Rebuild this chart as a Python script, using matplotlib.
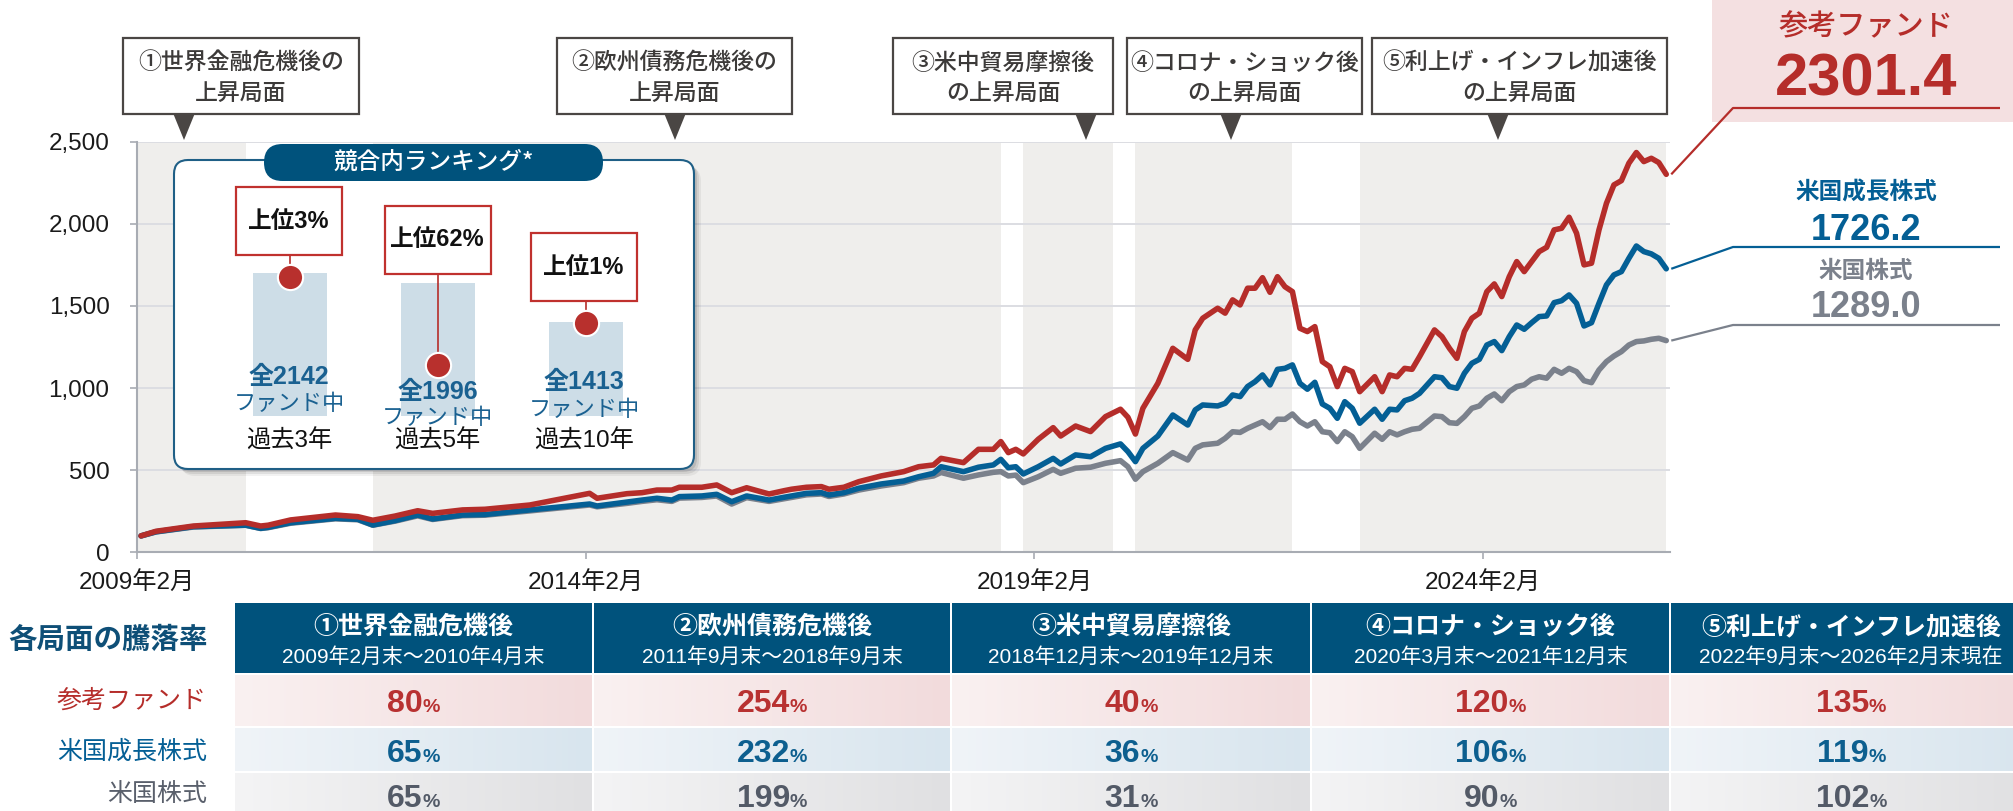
import matplotlib.pyplot as plt
import matplotlib.patches as mpatches
from matplotlib.colors import LinearSegmentedColormap
import numpy as np

plt.rcParams['font.family'] = ['Liberation Sans', 'Noto Sans CJK JP', 'DejaVu Sans']

# -------------------------
# Data (month index from 2009年2月, index = 100 at start)
# -------------------------

months = [0, 2, 7, 14, 16, 17, 20, 26, 29, 31, 34, 37, 39, 43, 46, 52, 60, 61, 65,
          67, 69, 71, 72, 75, 77, 79, 81, 84, 86, 87, 89, 91, 92, 94, 96, 99,
          102, 104, 106, 107, 110, 112, 114, 115, 116, 117, 118, 120, 122, 123, 125, 127, 129,
          131, 132, 133, 134, 136, 138, 140, 141, 142, 144, 145, 146, 147, 148, 149, 150,
          151, 152, 153, 154, 155, 156, 157, 158, 159, 160, 161, 162, 163, 165, 166, 167,
          168, 169, 170, 171, 173, 174, 175, 176, 177, 178, 179, 180, 181, 182, 183, 184,
          185, 186, 187, 188, 189, 190, 191, 192, 193, 194, 195, 196, 197, 198, 199, 200,
          201, 202, 203, 204]

fund = [100, 128, 160, 180, 160, 165, 197, 227, 217, 195, 221, 253, 237, 258, 262, 288, 359, 329, 357,
        363, 379, 379, 396, 396, 410, 363, 393, 355, 375, 384, 396, 400, 384, 396, 430, 465,
        491, 521, 532, 572, 546, 627, 627, 674, 607, 627, 599, 688, 759, 708, 769, 735, 826,
        871, 822, 720, 877, 1029, 1242, 1175, 1354, 1425, 1486, 1456, 1537, 1506, 1608, 1608, 1672,
        1583, 1678, 1617, 1587, 1364, 1344, 1374, 1161, 1130, 1009, 1120, 1100, 978, 1069, 978, 1080,
        1069, 1120, 1114, 1191, 1354, 1313, 1242, 1181, 1344, 1425, 1456, 1587, 1634, 1557, 1678, 1770,
        1709, 1770, 1831, 1857, 1963, 1973, 2040, 1943, 1750, 1760, 1963, 2125, 2237, 2263, 2369, 2434,
        2379, 2399, 2373, 2301.4]

growth = [100, 125, 156, 165, 146, 152, 180, 207, 201, 166, 193, 227, 203, 227, 230, 258, 294, 282, 306,
          318, 329, 318, 339, 343, 353, 308, 343, 318, 335, 343, 359, 363, 349, 363, 390, 416,
          434, 460, 481, 521, 491, 518, 532, 566, 515, 521, 477, 521, 572, 538, 593, 582, 633,
          660, 613, 552, 633, 708, 836, 775, 867, 897, 891, 907, 958, 948, 1009, 1039, 1080,
          1019, 1114, 1120, 1141, 1029, 993, 1035, 903, 877, 816, 917, 877, 786, 871, 810, 871,
          867, 923, 938, 968, 1069, 1063, 1009, 999, 1090, 1151, 1175, 1262, 1283, 1228, 1313, 1384,
          1358, 1398, 1435, 1439, 1520, 1532, 1567, 1516, 1378, 1398, 1516, 1628, 1689, 1709, 1790, 1865,
          1831, 1817, 1790, 1726.2]

us_stock = [100, 124, 154, 165, 145, 150, 177, 204, 198, 165, 190, 222, 200, 223, 226, 252, 288, 277, 298,
            310, 320, 310, 330, 334, 343, 294, 333, 310, 326, 334, 350, 355, 340, 355, 379, 404,
            424, 451, 465, 486, 451, 471, 487, 491, 465, 470, 424, 460, 505, 481, 512, 518, 542,
            558, 521, 445, 491, 542, 607, 562, 633, 654, 664, 694, 734, 730, 755, 775, 795,
            759, 810, 810, 842, 795, 769, 795, 734, 728, 674, 734, 704, 633, 725, 688, 734,
            715, 734, 749, 755, 830, 826, 789, 785, 826, 877, 891, 938, 964, 923, 978, 1009,
            1019, 1054, 1069, 1060, 1114, 1090, 1120, 1100, 1045, 1033, 1110, 1161, 1195, 1222, 1262, 1283,
            1287, 1297, 1303, 1289.0]

x_ticks = [0, 60, 120, 180]
x_tick_labels = ['2009年2月', '2014年2月', '2019年2月', '2024年2月']
y_ticks = [0, 500, 1000, 1500, 2000, 2500]

phase_start = [0, 31, 118, 133, 163]
phase_end = [14, 115, 130, 154, 204]

callout_text = [('①世界金融危機後の', '上昇局面'),
                ('②欧州債務危機後の', '上昇局面'),
                ('③米中貿易摩擦後', 'の上昇局面'),
                ('④コロナ・ショック後', 'の上昇局面'),
                ('⑤利上げ・インフレ加速後', 'の上昇局面')]

phase_names = ['①世界金融危機後', '②欧州債務危機後', '③米中貿易摩擦後',
               '④コロナ・ショック後', '⑤利上げ・インフレ加速後']
phase_periods = ['2009年2月末～2010年4月末', '2011年9月末～2018年9月末',
                 '2018年12月末～2019年12月末', '2020年3月末～2021年12月末',
                 '2022年9月末～2026年2月末現在']
ret_fund = [80, 254, 40, 120, 135]
ret_growth = [65, 232, 36, 106, 119]
ret_us = [65, 199, 31, 90, 102]

series_names = ['参考ファンド', '米国成長株式', '米国株式']
last_labels = ['2301.4', '1726.2', '1289.0']

rank_periods = ['過去3年', '過去5年', '過去10年']
rank_total = [2142, 1996, 1413]
rank_top_pct = [3, 62, 1]

# -------------------------
# Style
# -------------------------

RED = '#b52d2a'
BLUE = '#045f95'
GRAY = '#7b818c'
NAVY = '#00527c'
BOXGRAY = '#4a4644'
JP = ['Noto Sans CJK JP', 'DejaVu Sans']

W, H = 2013, 811
fig = plt.figure(figsize=(W / 100, H / 100), dpi=100)

# main chart area in pixels
L, R, T, B = 137.3, 1670, 141.7, 552.3
ax = fig.add_axes([L / W, 1 - B / H, (R - L) / W, (B - T) / H])

ax.set_xlim(0, 205)
ax.set_ylim(0, 2500)

for s, e in zip(phase_start, phase_end):
    ax.axvspan(s + 0.5 if s > 0 else 0, e + 0.5, color='#efeeec', lw=0, zorder=0)

for v in y_ticks[1:]:
    ax.axhline(v, color='#dcdde2', lw=1.4, zorder=0.5)

xs = np.array(months) + 0.5
ax.plot(xs, us_stock, color=GRAY, lw=4, zorder=2, solid_joinstyle='round', solid_capstyle='round')
ax.plot(xs, growth, color=BLUE, lw=4, zorder=3, solid_joinstyle='round', solid_capstyle='round')
ax.plot(xs, fund, color=RED, lw=4, zorder=4, solid_joinstyle='round', solid_capstyle='round')

for sp in ['top', 'right']:
    ax.spines[sp].set_visible(False)
for sp in ['left', 'bottom']:
    ax.spines[sp].set_color('#a8acb3')
    ax.spines[sp].set_linewidth(1.5)

ax.set_yticks(y_ticks)
ax.set_yticklabels([f'{v:,}' for v in y_ticks])
ax.set_xticks(x_ticks)
ax.set_xticklabels(x_tick_labels)
ax.tick_params(axis='y', length=5, width=1.2, color='#a8acb3', pad=15, labelsize=17.5, labelcolor='#1a1a1a')
ax.tick_params(axis='x', length=5, width=1.2, color='#a8acb3', pad=9, labelsize=17.5, labelcolor='#1a1a1a')

# -------------------------
# Overlay (pixel coordinates, y down)
# -------------------------

ov = fig.add_axes([0, 0, 1, 1], zorder=2)
ov.set_xlim(0, W)
ov.set_ylim(H, 0)
ov.axis('off')
ov.patch.set_alpha(0)

# phase callouts
box_x = [(123, 359), (557, 792), (893, 1113), (1127, 1362), (1372, 1667)]
tri_x = [184, 675, 1086, 1231, 1498]
for (x0, x1), tx, (l1, l2) in zip(box_x, tri_x, callout_text):
    ov.add_patch(mpatches.Rectangle((x0, 38), x1 - x0, 76, fc='white', ec=BOXGRAY, lw=1.6))
    ov.add_patch(mpatches.Polygon([(tx - 11, 113), (tx + 11, 113), (tx, 140)], closed=True,
                                  fc=BOXGRAY, ec='none'))
    cx = (x0 + x1) / 2
    ov.text(cx, 63, l1, family=JP, fontsize=16.5, fontweight='medium', color='#3c3a39',
            ha='center', va='center')
    ov.text(cx, 93, l2, family=JP, fontsize=16.5, fontweight='medium', color='#3c3a39',
            ha='center', va='center')

# right end labels
ov.add_patch(mpatches.Rectangle((1712, 0), W - 1712, 122, fc='#f4e0e1', ec='none'))
label_colors = [RED, BLUE, GRAY]
name_y = [27, 193, 271]
name_size = [21, 17, 17]
value_base = [96, 240, 317]
value_size = [43, 26, 26]
leader_y = [108, 247, 325]
ends = [fund[-1], growth[-1], us_stock[-1]]
for i in range(3):
    ov.text(1866, name_y[i], series_names[i], family=JP, fontsize=name_size[i], color=label_colors[i],
            fontweight='medium' if i == 0 else 'bold', ha='center', va='center')
    ov.text(1866, value_base[i], last_labels[i], fontsize=value_size[i], fontweight='bold',
            color=label_colors[i], ha='center', va='baseline')
    dx, dy = ax.transData.transform((xs[-1], ends[i]))
    ov.plot([dx + 5, 1733, 2000], [H - dy, leader_y[i], leader_y[i]], color=label_colors[i],
            lw=1.6, solid_capstyle='butt')

# ranking inset box
bx, by, bw, bh = 174, 160, 520, 309
for off, a in [(7, 0.05), (5, 0.08), (3, 0.1)]:
    ov.add_patch(mpatches.FancyBboxPatch((bx + off, by + off), bw, bh,
                                         boxstyle='round,pad=0,rounding_size=14',
                                         fc='black', ec='none', alpha=a))
ov.add_patch(mpatches.FancyBboxPatch((bx, by), bw, bh, boxstyle='round,pad=0,rounding_size=14',
                                     fc='white', ec='#1f5f86', lw=1.5))
ov.add_patch(mpatches.FancyBboxPatch((264, 144), 339, 37, boxstyle='round,pad=0,rounding_size=18.5',
                                     fc=NAVY, ec='none'))
ov.text(433.5, 162, '競合内ランキング*', family=JP, fontsize=17, fontweight='medium',
        color='white', ha='center', va='center')

# bars of the inset: heights proportional to number of funds
ax_in = fig.add_axes([216 / W, 1 - 416 / H, 444 / W, 256 / H], zorder=3)
ax_in.set_xlim(-0.5, 2.5)
ax_in.set_ylim(0, 2142 * 256 / 143)
ax_in.axis('off')
ax_in.patch.set_alpha(0)
pos = np.arange(3)
ax_in.bar(pos, rank_total, width=0.5, color='#cddde7', zorder=1)
dot_y = [t * (1 - p / 100) for t, p in zip(rank_total, rank_top_pct)]

rbox_top = [187, 206, 233]
rbox_cx = [289, 437.5, 584]
inv = ax_in.transData.inverted()
for i in range(3):
    _, yb = inv.transform((0, H - (rbox_top[i] + 68)))
    ax_in.plot([pos[i], pos[i]], [yb, dot_y[i]], color=RED, lw=1.2, zorder=2)
ax_in.scatter(pos, dot_y, s=330, color='#b8302d', edgecolor='white', linewidth=1.5, zorder=3)

ov2 = fig.add_axes([0, 0, 1, 1], zorder=4)
ov2.set_xlim(0, W)
ov2.set_ylim(H, 0)
ov2.axis('off')
ov2.patch.set_alpha(0)

total_y = [377, 392, 382]
fundin_y = [404, 418, 409]
for i in range(3):
    cx = rbox_cx[i]
    ov2.add_patch(mpatches.Rectangle((cx - 53, rbox_top[i]), 106, 68, fc='white', ec='#c0312e', lw=1.6))
    ov2.text(cx, rbox_top[i] + 34, f'上位{rank_top_pct[i]}%', fontsize=17, fontweight='bold',
             color='#111111', ha='center', va='center')
    ov2.text(cx, total_y[i], f'全{rank_total[i]}', fontsize=18, fontweight='bold', color='#1a6191',
             ha='center', va='center')
    ov2.text(cx, fundin_y[i], 'ファンド中', family=JP, fontsize=16, color='#1a6191',
             ha='center', va='center')
    ov2.text(cx, 441, rank_periods[i], fontsize=17.5, color='#111111', ha='center', va='center')

# -------------------------
# Table of phase returns
# -------------------------

cols = [(235, 592), (594, 950), (952, 1310), (1312, 1669), (1671, 2031)]
rows = [(675, 726), (728, 771), (773, 811)]
row_grad = [('#faf1f1', '#f2dbdc'), ('#f0f4f8', '#d8e5ee'), ('#f4f4f5', '#e0e0e2')]
row_text_color = ['#b83131', '#0d5f8f', '#535a67']
row_label_color = [RED, BLUE, '#5a606c']
row_base = [712, 762, 807]
row_values = [ret_fund, ret_growth, ret_us]

grad = np.linspace(0, 1, 256).reshape(1, -1)
for (x0, x1), name, period in zip(cols, phase_names, phase_periods):
    ov.add_patch(mpatches.Rectangle((x0, 603), x1 - x0, 70, fc=NAVY, ec='none'))
    cx = (x0 + x1) / 2
    ov.text(cx, 627, name, fontsize=18, fontweight='bold', color='white', ha='center', va='center')
    ov.text(cx, 657, period, fontsize=15, color='white', ha='center', va='center')
    for (y0, y1), (c0, c1) in zip(rows, row_grad):
        cmap = LinearSegmentedColormap.from_list('g', [c0, c1])
        ov.imshow(grad, cmap=cmap, extent=(x0, x1, y1, y0), aspect='auto', interpolation='bicubic', zorder=0)

ov.set_xlim(0, W)
ov.set_ylim(H, 0)

ov.text(108, 640, '各局面の騰落率', family=JP, fontsize=20.5, fontweight='bold', color='#0e4f77',
        ha='center', va='center')
label_y = [701, 752, 794]
for i in range(3):
    ov.text(207, label_y[i], series_names[i], family=JP, fontsize=18, color=row_label_color[i],
            ha='right', va='center')

renderer = fig.canvas.get_renderer()
for i in range(3):
    for (x0, x1), val in zip(cols, row_values[i]):
        cx = (x0 + x1) / 2
        t1 = ov.text(0, row_base[i], str(val), fontsize=23, fontweight='bold',
                     color=row_text_color[i], ha='left', va='baseline')
        t2 = ov.text(0, row_base[i], '%', fontsize=14, fontweight='bold',
                     color=row_text_color[i], ha='left', va='baseline')
        w1 = t1.get_window_extent(renderer).width
        w2 = t2.get_window_extent(renderer).width
        start = cx - (w1 + w2) / 2
        t1.set_x(start)
        t2.set_x(start + w1)

fig.savefig('out.png', dpi=100)
